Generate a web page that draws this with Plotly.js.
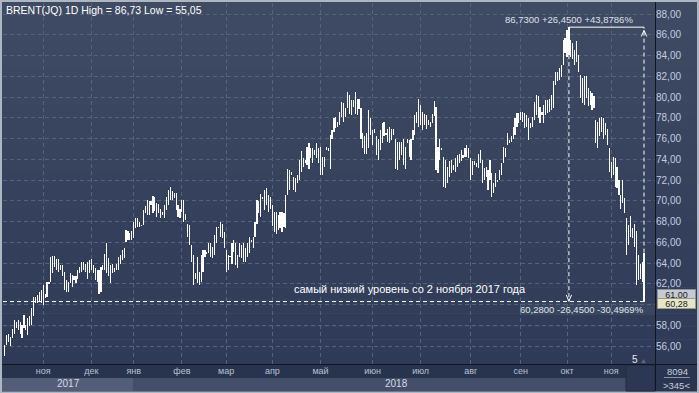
<!DOCTYPE html>
<html><head><meta charset="utf-8">
<script src="https://cdn.plot.ly/plotly-3.0.1.min.js"></script>
<style>html,body{margin:0;padding:0;background:#aeb6c2;}#chart{width:699px;height:393px;}</style>
</head><body><div id="chart"></div>
<script>
// ---- data (daily bars) ----
const highs = [
56.10,57.05,57.20,56.90,57.60,58.50,58.35,58.50,58.35,58.00,59.00,58.00,58.70,58.85,59.65,60.75,60.75,60.90,61.20,61.40,
61.90,61.05,62.20,62.20,64.55,64.70,64.70,64.35,64.35,63.80,63.80,63.15,62.35,62.20,63.00,62.85,62.70,62.70,63.30,63.65,
64.10,64.10,63.95,64.10,64.30,64.35,63.80,63.50,63.30,63.30,63.65,63.80,64.90,65.95,64.45,63.80,63.95,63.50,63.95,64.60,
64.75,65.25,65.40,67.20,67.05,66.90,67.05,68.00,
68.30,68.30,68.00,67.70,69.10,69.45,70.10,70.00,70.00,70.45,70.40,69.75,69.70,69.25,68.95,69.60,70.40,71.00,71.30,70.95,
70.70,70.70,69.60,69.25,70.10,70.10,68.70,67.80,67.65,65.75,64.80,63.00,64.60,63.15,64.80,65.25,65.25,65.10,65.90,65.90,
65.55,66.70,67.50,67.50,68.00,67.80,67.00,65.25,64.80,64.70,65.90,66.20,65.90,64.80,65.90,65.75,65.90,65.40,65.90,66.55,
66.20,66.55,68.00,70.10,70.00,70.65,
70.40,71.00,71.20,70.55,70.40,69.60,68.95,68.95,68.60,68.95,68.95,68.80,70.55,73.10,72.95,72.80,72.30,72.15,72.50,73.95,
74.75,74.10,73.95,75.20,75.55,75.05,75.05,74.90,75.55,75.05,75.20,74.25,74.25,75.20,75.05,76.35,76.80,77.95,78.10,77.60,
78.60,79.55,79.40,78.95,80.50,80.20,79.70,79.70,80.50,79.85,79.85,78.90,76.50,76.20,76.50,78.75,77.95,76.80,76.90,76.20,
76.00,76.80,77.45,77.60,76.50,76.95,77.10,76.95,76.95,
76.00,75.70,75.70,75.70,76.00,75.20,76.00,75.85,76.00,76.80,78.25,78.60,79.80,79.25,78.60,78.40,78.25,77.80,77.60,78.40,
79.65,79.05,75.20,76.00,75.05,74.25,73.95,73.30,73.80,73.95,73.45,74.10,74.40,74.55,74.90,74.40,75.05,75.40,75.05,74.10,
73.80,73.80,73.60,74.55,74.90,73.95,73.15,73.30,72.95,73.95,72.65,71.70,72.65,72.00,72.95,73.60,75.20,75.05,76.50,75.85,
76.20,77.15,77.95,78.45,78.45,78.60,78.60,
78.45,78.30,77.95,77.45,78.10,79.55,80.20,80.05,79.05,78.60,79.20,79.70,79.70,79.85,80.20,81.50,82.45,82.45,82.75,83.10,
85.50,85.65,86.45,86.73,85.50,85.20,84.55,85.35,84.05,82.15,81.85,82.00,82.00,80.90,80.55,80.40,80.05,77.80,77.60,77.95,
78.10,77.95,77.45,76.95,75.05,73.75,74.20,74.10,73.30,72.00,70.55,72.00,70.25,68.30,67.70,68.50,67.35,67.80,67.05,64.80,
63.90,64.05,65.00
];
const lows = [
55.05,56.10,56.40,56.00,56.75,57.20,57.70,57.55,57.20,56.75,57.70,57.55,57.05,57.90,58.00,58.85,60.10,60.10,60.25,60.10,
59.95,60.60,60.75,62.00,62.20,63.00,63.65,63.30,63.15,63.30,62.70,61.40,61.20,61.20,62.05,61.70,62.35,62.05,62.50,63.00,
63.15,63.30,63.15,62.50,63.00,63.30,63.00,62.35,62.20,61.05,61.20,63.30,63.30,63.00,62.70,62.05,63.00,63.15,63.30,63.30,
63.95,64.30,64.45,66.05,66.20,66.20,66.20,66.40,
67.35,67.50,67.50,67.60,67.70,68.80,68.60,68.60,69.60,68.80,69.00,68.45,68.80,68.30,68.60,68.30,69.10,69.60,70.10,70.10,
70.25,69.10,68.45,68.30,68.95,68.00,68.10,66.55,65.75,64.10,61.90,62.50,62.05,61.90,62.20,63.15,64.60,64.90,64.95,64.60,
64.45,64.80,65.90,67.40,66.55,66.40,65.40,63.15,63.30,64.60,63.95,65.10,63.80,63.50,64.60,64.45,64.10,64.10,64.60,64.95,
66.05,65.40,66.55,67.80,68.80,68.45,
70.20,69.10,69.60,68.95,69.25,67.60,67.00,66.80,67.20,67.40,67.00,67.50,67.40,70.55,71.00,72.50,71.00,70.85,71.70,72.00,
72.80,73.30,73.60,73.45,73.10,74.10,73.60,74.40,74.10,73.60,72.50,72.50,73.30,74.90,74.75,73.10,76.00,76.65,77.00,77.15,
77.30,78.10,77.60,78.10,78.90,78.40,78.25,79.05,78.40,78.25,78.80,76.00,75.05,74.55,74.55,75.05,76.35,75.35,76.50,74.40,
73.95,74.90,75.55,76.20,76.35,75.70,75.55,75.85,76.35,
73.10,72.95,73.95,74.40,73.45,73.10,75.55,74.25,73.95,75.85,76.35,77.45,77.15,77.30,76.80,77.30,76.95,77.30,77.15,77.45,
78.15,72.95,72.65,73.95,74.90,71.35,71.20,71.70,72.30,72.65,72.95,72.80,73.30,73.60,73.80,74.10,74.25,74.25,74.10,72.00,
72.50,73.45,73.30,73.15,73.60,71.70,72.00,72.30,71.00,72.00,70.40,70.70,71.35,71.85,72.00,72.50,73.60,74.25,75.35,75.55,
75.70,76.00,76.35,77.15,77.45,77.80,77.60,
77.00,77.15,75.85,77.00,77.15,77.80,78.25,77.95,77.45,78.25,77.45,78.25,78.45,78.60,78.75,78.90,81.15,81.50,81.65,81.95,
83.10,84.20,83.90,84.05,83.90,83.70,83.10,83.40,82.45,79.90,79.40,79.25,79.90,79.10,79.25,78.75,78.90,75.55,75.05,76.20,
76.65,76.00,76.35,75.35,72.80,72.15,72.50,71.35,71.20,70.55,69.25,69.75,68.80,64.80,65.75,66.55,66.40,65.55,61.90,62.35,
62.50,62.20,60.28
];
const monthTickIdx = [20,45,67,92,115,139,164,191,216,242,268,292,315];
const monthLabels = ['ноя','дек','янв','фев','мар','апр','май','июн','июл','авг','сен','окт','ноя'];
const yTickVals = [56,58,60,62,64,66,68,70,72,74,76,78,80,82,84,86,88];
// the 60,00 label is hidden behind the price box in the reference
const yTickText = ['56,00','58,00','','62,00','64,00','66,00','68,00','70,00','72,00','74,00','76,00','78,00','80,00','82,00','84,00','86,00','88,00'];
const yearLabels = ['2017','2018'];
const titleText = 'BRENT(JQ) 1D High = 86,73 Low = 55,05';
const lastPrice = 60.28;
const markerLevel = 61.00;
const measureTop = '86,7300 +26,4500 +43,8786%';
const measureBottom = '60,2800 -26,4500 -30,4969%';
const noteText = 'самый низкий уровень со 2 ноября 2017 года';
const footA = '8094', footB = '>345<', scrollNum = '5';

(function(){
const idx = highs.map((_, i) => i);
const ranges = highs.map((h, i) => h - lows[i]);
const peakHigh = Math.max(...highs);
const peakIdx = highs.indexOf(peakHigh);
const lastIdx = highs.length - 1;

const W = 699, H = 393, ML = 3, MR = 44, MT = 3, MB = 29;
const PW = W - ML - MR, PH = H - MT - MB;
const X = px => (px - ML) / PW;
const Y = py => (H - MB - py) / PH;
const xRange = [-0.883, 337.7];
const yRange = [54.265, 89.06];

const shapes = [];
const N = 30, cTop = [63, 74, 99], cBot = [45, 57, 86];
for (let k = 0; k < N; k++) {
  const t = k / (N - 1);
  const c = cTop.map((v, j) => Math.round(v + (cBot[j] - v) * t));
  const y0 = 2 + k * 389 / N, y1 = y0 + 389 / N + 0.6;
  shapes.push({type:'rect', xref:'paper', yref:'paper', x0:X(2), x1:X(697), y0:Y(y1), y1:Y(y0),
    fillcolor:`rgb(${c[0]},${c[1]},${c[2]})`, line:{width:0}, layer:'below'});
}
function rect(x0,x1,y0,y1,fill,lc,layer){
  shapes.push({type:'rect', xref:'paper', yref:'paper', x0:X(x0), x1:X(x1), y0:Y(y1), y1:Y(y0),
    fillcolor:fill, line:{width:lc?1:0, color:lc||fill}, layer:layer||'below'});
}
rect(2,655,364,378,'#28344e');
rect(2,133,378,391,'#525e78');
rect(133,626,378,391,'#434f69');
rect(626,655,365,391,'#2c3853','#222a3c');
rect(655,697,364,391,'#2a3650');
rect(521.5,655,302.7,315,'#3a4660');
shapes.push({type:'line', xref:'paper', yref:'paper', x0:X(655.5), x1:X(655.5), y0:Y(391), y1:Y(2), line:{color:'#10151f', width:1}});
shapes.push({type:'line', xref:'paper', yref:'paper', x0:X(2), x1:X(697), y0:Y(364.5), y1:Y(364.5), line:{color:'#10151f', width:1}});
shapes.push({type:'line', xref:'paper', yref:'paper', x0:X(664), x1:X(690), y0:Y(377.5), y1:Y(377.5), line:{color:'#8592aa', width:1}});
const dashW = '4px,3px';
shapes.push({type:'line', xref:'x', yref:'y', x0:xRange[0], x1:lastIdx, y0:lastPrice, y1:lastPrice, line:{color:'#ffffff', width:1, dash:dashW}});
shapes.push({type:'line', xref:'x', yref:'y', x0:peakIdx, x1:lastIdx, y0:peakHigh, y1:peakHigh, line:{color:'#ffffff', width:1}});
shapes.push({type:'line', xref:'x', yref:'y', x0:peakIdx, x1:peakIdx, y0:peakHigh, y1:lastPrice, line:{color:'#ffffff', width:1, dash:dashW}});
shapes.push({type:'line', xref:'x', yref:'y', x0:lastIdx, x1:lastIdx, y0:lastPrice, y1:peakHigh, line:{color:'#ffffff', width:1, dash:dashW}});
const aw = 1.4, ah = 0.65;
shapes.push({type:'path', xref:'x', yref:'y', path:`M${peakIdx-aw},${lastPrice+ah} L${peakIdx},${lastPrice+0.05} L${peakIdx+aw},${lastPrice+ah}`, line:{color:'#ffffff', width:1}});
shapes.push({type:'path', xref:'x', yref:'y', path:`M${lastIdx-aw},${peakHigh-ah-0.25} L${lastIdx},${peakHigh-0.3} L${lastIdx+aw},${peakHigh-ah-0.25}`, line:{color:'#ffffff', width:1}});

const F = 'Liberation Sans, Arial, sans-serif';
const ann = [];
function txt(text, x, y, opts){
  ann.push(Object.assign({text, x, y, xref:'paper', yref:'paper', showarrow:false, xanchor:'center', yanchor:'middle',
    font:{family:F, size:10, color:'#ffffff'}}, opts||{}));
}
txt(titleText, X(4), Y(9.5), {xanchor:'left', font:{family:F, size:10.5, color:'#ffffff'}});
txt(measureTop, peakIdx, Y(19), {xref:'x', font:{family:F, size:9.5, color:'#dfe3ea'}});
txt(measureBottom, X(646), Y(309.5), {xanchor:'right', font:{family:F, size:9.5, color:'#dfe3ea'}});
txt(noteText, X(410), Y(289), {font:{family:F, size:11, color:'#ffffff'}});
txt(yearLabels[0], X(68.5), Y(384), {font:{family:F, size:10, color:'#d4dae4'}});
txt(yearLabels[1], X(396), Y(384), {font:{family:F, size:10, color:'#d4dae4'}});
txt(footA, X(677), Y(371), {font:{family:F, size:9.5, color:'#c4ccdc'}});
txt(footB, X(676), Y(385), {font:{family:F, size:9.5, color:'#c4ccdc'}});
txt(scrollNum, X(635), Y(359.5), {font:{family:F, size:10, color:'#e4e8ee'}});
txt('▲', X(643.5), Y(360.5), {font:{family:F, size:7, color:'#5f6a82'}});
ann.push({text:markerLevel.toFixed(2).replace('.', ','), x:X(657), y:Y(294), xref:'paper', yref:'paper',
  showarrow:false, xanchor:'left', yanchor:'middle', bgcolor:'#c6cad1', bordercolor:'#8b929e', borderwidth:1, borderpad:0,
  width:37, height:9, font:{family:F, size:9, color:'#1a1a1a'}});
ann.push({text:lastPrice.toFixed(2).replace('.', ','), x:X(657), y:Y(303.5), xref:'paper', yref:'paper',
  showarrow:false, xanchor:'left', yanchor:'middle', bgcolor:'#e6e5c8', bordercolor:'#9a9a86', borderwidth:1, borderpad:0,
  width:37, height:9, font:{family:F, size:9, color:'#1a1a1a'}});

const trace = {type:'bar', x:idx, y:ranges, base:lows, width:0.6,
  marker:{color:'#ffffff', line:{width:0}}, hoverinfo:'skip', showlegend:false};

const layout = {
  width:W, height:H, margin:{l:ML, r:MR, t:MT, b:MB, pad:0},
  paper_bgcolor:'#aeb6c2', plot_bgcolor:'rgba(0,0,0,0)',
  showlegend:false, bargap:0,
  xaxis:{range:xRange, tickvals:monthTickIdx, ticktext:monthLabels, showgrid:true, gridcolor:'#56627c', griddash:'4px,3px',
    gridwidth:1, zeroline:false, showline:false, ticks:'', tickfont:{family:F, size:9, color:'#b8c0d0'}, fixedrange:true},
  yaxis:{range:yRange, side:'right', tickvals:yTickVals, ticktext:yTickText, showgrid:true, gridcolor:'#56627c',
    griddash:'4px,3px', gridwidth:1, zeroline:false, showline:false, ticks:'', tickfont:{family:F, size:10, color:'#c2cde0'}, fixedrange:true},
  shapes, annotations:ann
};
Plotly.newPlot('chart', [trace], layout, {staticPlot:true, displayModeBar:false});
})();
</script></body></html>
